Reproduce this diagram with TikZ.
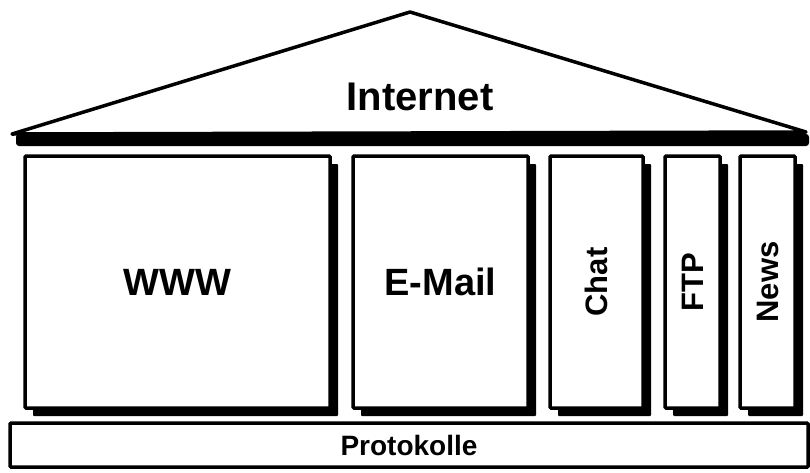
\documentclass[tikz,border=0pt]{standalone}
\usepackage{fontspec}
\setmainfont{Liberation Sans}
\usetikzlibrary{shadows}
\usetikzlibrary{positioning}

\begin{document}
\begin{tikzpicture}[x=1pt,y=-1pt]
        \tikzset{pillar/.style={draw, line width=3.5pt, fill=white, rectangle, rounded corners=1pt,
                    inner sep=0pt, minimum height=252pt, font=\bfseries\fontsize{38}{40}\selectfont,
                    drop shadow={fill=black, opacity=1, shadow xshift=8pt, shadow yshift=-8pt}},
        narrow/.style={pillar, font=\bfseries\fontsize{31}{33}\selectfont, rotate=90},
        base/.style={draw, line width=3.5pt, rectangle, rounded corners=1pt, inner sep=0pt,
                    minimum width=798pt, minimum height=44pt, font=\bfseries\fontsize{28}{30}\selectfont}
        }
        \useasboundingbox (0,0) rectangle (810,472);
        %% roof
        \coordinate (eaveL) at (12,134);
        \coordinate (apex) at (410,12);
        \coordinate (eaveR) at (806,132);
        \fill[rounded corners=3pt] (16,134) rectangle (809,146);
        \draw[line width=3.5pt, line join=round, fill=white] (eaveL) -- (apex) -- (eaveR) -- cycle;
        \node[font=\bfseries\fontsize{40}{42}\selectfont] (internet) at (420,97) {Internet};
        %% pillars
        \node [pillar, minimum width=305pt] (www) at (177.5,282) {WWW};
        \node [pillar, minimum width=175pt] (email) at (440.5,282) {E-Mail};
        \node [narrow, minimum width=252pt, minimum height=93pt] (chat) at (596.5,282) {Chat};
        \node [narrow, minimum width=252pt, minimum height=55pt] (ftp) at (692.5,282) {FTP};
        \node [narrow, minimum width=252pt, minimum height=55pt] (news) at (767.5,282) {News};
        %% foundation
        \node [base] (proto) at (409,445) {Protokolle};
    \end{tikzpicture}
\end{document}
